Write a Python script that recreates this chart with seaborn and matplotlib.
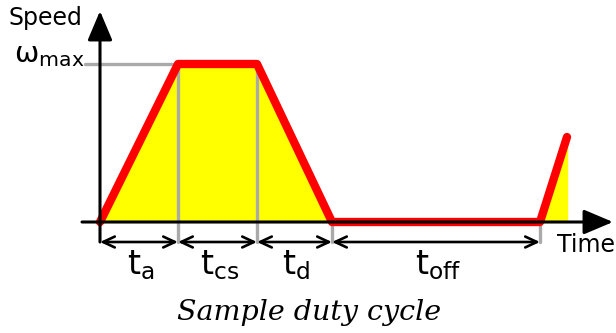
import numpy as np
import pandas as pd
import seaborn as sns
import matplotlib.pyplot as plt

# duty cycle profile (time, speed) in drawing units
time = [0, 78, 157, 232, 440, 467]
speed = [0, 158, 158, 0, 0, 85]
w_max = 158

# phase boundaries and labels
edges = [0, 78, 157, 232, 440]
phase_labels = [r'$\mathregular{t_{a}}$', r'$\mathregular{t_{cs}}$',
                r'$\mathregular{t_{d}}$', r'$\mathregular{t_{off}}$']

sns.set_style("white")
plt.rcParams['font.family'] = ['DejaVu Sans']
plt.rcParams['text.color'] = 'black'

fig = plt.figure(figsize=(6.16, 3.33), dpi=100)
ax = fig.add_axes([0, 0, 1, 1])

df = pd.DataFrame({'time': time, 'speed': speed})

# yellow area under the curve
ax.fill_between(df['time'], 0, df['speed'], color='#ffff00', zorder=1)

# gray guide lines
ax.plot([-15, edges[1]], [w_max, w_max], color='#aaaaaa', lw=2.4, zorder=2)
for e in edges[1:3]:
    ax.plot([e, e], [w_max, -20], color='#aaaaaa', lw=2.4, zorder=2)
for e in edges[3:]:
    ax.plot([e, e], [0, -20], color='#aaaaaa', lw=2.4, zorder=2)

# speed profile
sns.lineplot(data=df, x='time', y='speed', color='red', lw=6, ax=ax,
             zorder=3, sort=False)
ax.set_xlim(-100, 516)
ax.set_ylim(-111, 222)
ax.axis('off')

# axes with arrows
big = dict(arrowstyle='-|>,head_length=0.9,head_width=0.38', color='black',
           lw=2.2, mutation_scale=20, shrinkA=0, shrinkB=0)
ax.annotate('', xy=(0, 211), xytext=(0, -20), arrowprops=big, zorder=4)
ax.annotate('', xy=(513, 0), xytext=(-18, 0), arrowprops=big, zorder=4)

# phase duration arrows and labels
small = dict(arrowstyle='<->,head_length=0.6,head_width=0.28', color='black',
             lw=1.9, mutation_scale=14, shrinkA=0, shrinkB=0)
for a, b, lab in zip(edges[:-1], edges[1:], phase_labels):
    ax.annotate('', xy=(b, -20), xytext=(a, -20), arrowprops=small, zorder=4)
    ax.text((a + b) / 2 + 2, -43, lab, fontsize=24, ha='center', va='center')

ax.text(-92, 204, 'Speed', fontsize=17, ha='left', va='center')
ax.text(-86, 167, r'$\mathregular{ω_{max}}$', fontsize=21, ha='left', va='center')
ax.text(457, -23, 'Time', fontsize=17, ha='left', va='center')

ax.text(209, -91, 'Sample duty cycle', fontsize=20.5, family='DejaVu Serif',
        style='italic', ha='center', va='center')

fig.savefig('out.png', dpi=100)
